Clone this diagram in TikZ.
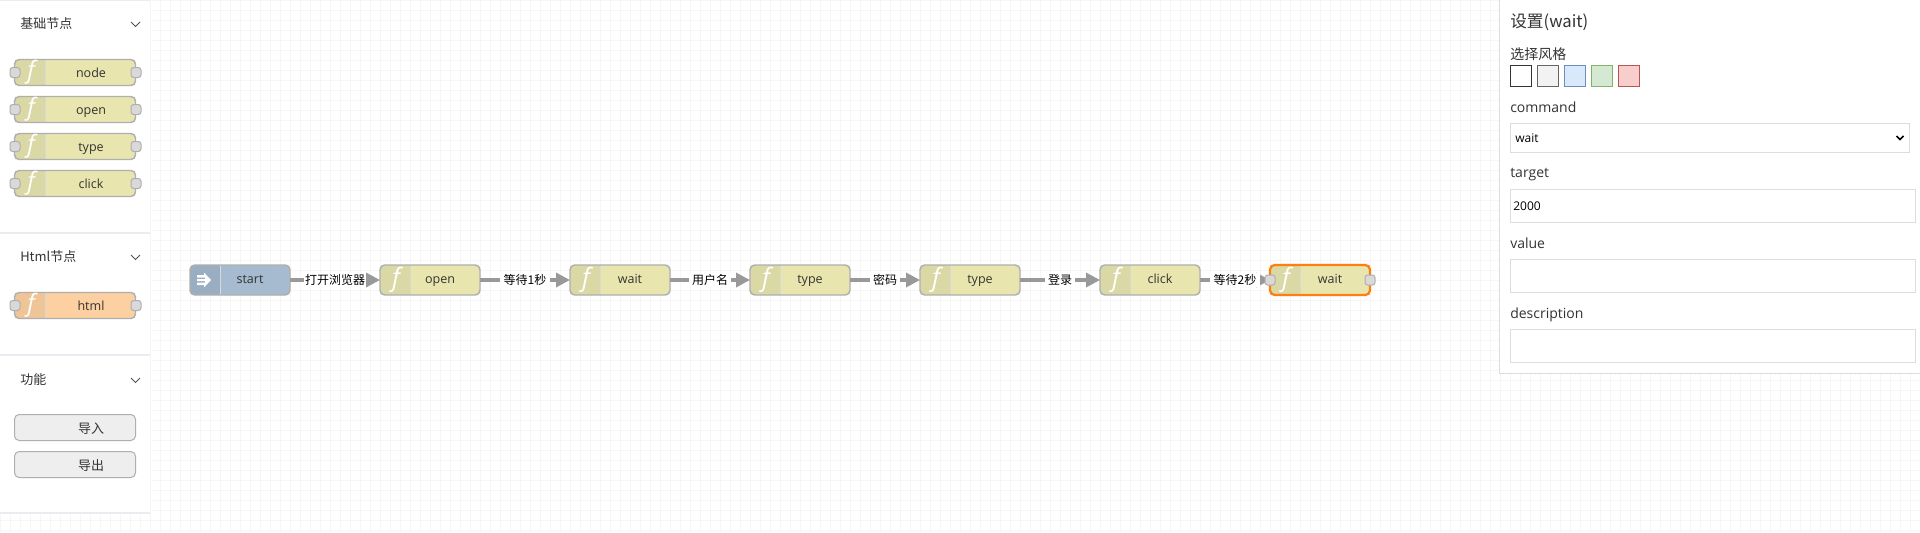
\documentclass[tikz,border=0pt]{standalone}
\usepackage{fontspec}
\setmainfont{Open Sans}
\newfontfamily\cjk{Noto Sans CJK SC}
\usetikzlibrary{arrows.meta}
\definecolor{gridc}{HTML}{F6F6F6}
\definecolor{sep}{HTML}{E9ECF1}
\definecolor{fnfill}{HTML}{E8E6AE}
\definecolor{fnicon}{HTML}{DAD8A4}
\definecolor{bord}{HTML}{AFAFAF}
\definecolor{portc}{HTML}{D9D9D9}
\definecolor{txt}{HTML}{333333}
\definecolor{htmlfill}{HTML}{FDD0A2}
\definecolor{htmlicon}{HTML}{EFC497}
\definecolor{startfill}{HTML}{A6BBCF}
\definecolor{starticon}{HTML}{9AAEC1}
\definecolor{linec}{HTML}{999999}
\definecolor{sel}{HTML}{FF7F0E}
\definecolor{inb}{HTML}{DDDDDD}
\newcommand{\pxs}{\fontsize{9.4pt}{11pt}\selectfont}
\tikzset{
  x=0.75pt,y=-0.75pt,
  nodebody/.style={rounded corners=3.5pt,draw=bord,line width=1.1pt},
  porto/.style={rectangle,rounded corners=2pt,draw=bord,fill=portc,line width=0.75pt,minimum width=7.5pt,minimum height=7.5pt,inner sep=0pt},
  lab/.style={font=\pxs,text=txt,inner sep=0pt,anchor=base},
  ttl/.style={font=\cjk\fontsize{9.75pt}{11pt}\selectfont,text=txt,inner sep=0pt,anchor=west},
  edge/.style={draw=linec,line width=2.5pt,-{Triangle[length=10.5pt,width=10.5pt,fill=linec]}},
  elab/.style={font=\cjk\fontsize{9pt}{11pt}\selectfont,fill=white,inner xsep=2.5pt,inner ysep=1pt,text=black},
  chev/.style={draw=txt!85,line width=0.6pt},
  inbox/.style={draw=inb,line width=0.9pt,fill=white},
  flab/.style={font=\fontsize{10.5pt}{12pt}\selectfont,text=txt,inner sep=0pt,anchor=base west},
  fcjk/.style={font=\cjk\fontsize{10.5pt}{12pt}\selectfont,text=txt,inner sep=0pt,anchor=west},
  val/.style={font=\fontsize{9pt}{11pt}\selectfont,text=black,inner sep=0pt,anchor=base west},
  swatch/.style={line width=0.75pt,line join=miter},
  btn/.style={rounded corners=3.5pt,draw=bord,line width=0.75pt,fill=black!6.5},
}
% palette node: name, top y, baseline y, fill, icon, label
\newcommand{\palnode}[6]{%
  \fill[#4,rounded corners=3.5pt] (14.5,#2) rectangle ++(121,26);
  \begin{scope}
    \clip[rounded corners=3.5pt] (14.5,#2) rectangle ++(121,26);
    \fill[#5] (14.5,#2) rectangle ++(31,26);
    \draw[black!15,line width=0.5pt] (45.5,#2) -- (45.5,#2+26);
  \end{scope}
  \draw[nodebody] (14.5,#2) rectangle ++(121,26);
  \node[font=\fontsize{18pt}{18pt}\selectfont,text=white,inner sep=0pt] at (31,#2+13) {$\mathit{f}$};
  \node[lab] (#1) at (91,#3) {#6};
  \node[porto] at (15,#2+13) {};
  \node[porto] at (136,#2+13) {};
}
% flow node: name, left x, label, border colour, border width
\newcommand{\flownode}[5]{%
  \fill[fnfill,rounded corners=3.5pt] (#2,265) rectangle ++(100,30);
  \begin{scope}
    \clip[rounded corners=3.5pt] (#2,265) rectangle ++(100,30);
    \fill[fnicon] (#2,265) rectangle ++(30,30);
    \draw[black!15,line width=0.5pt] (#2+30,265) -- (#2+30,295);
  \end{scope}
  \draw[nodebody,draw=#4,line width=#5] (#2,265) rectangle ++(100,30);
  \node[font=\fontsize{19pt}{19pt}\selectfont,text=white,inner sep=0pt] at (#2+16,280) {$\mathit{f}$};
  \node[lab] (#1) at (#2+60,283.5) {#3};
  \coordinate (#1L) at (#2,280);
  \coordinate (#1R) at (#2+100,280);
}
\begin{document}
\begin{tikzpicture}
\useasboundingbox (0,0) rectangle (1920,532);
\fill[white] (0,0) rectangle (1920,532);
% grid
\foreach \gx in {150,160,...,1920} \draw[gridc,line width=0.7pt] (\gx+0.5,0) -- (\gx+0.5,532);
\foreach \gy in {0,10,...,530} \draw[gridc,line width=0.7pt] (150,\gy+0.5) -- (1920,\gy+0.5);
\foreach \gx in {0,10,...,150} \draw[gridc,line width=0.7pt] (\gx+0.5,513) -- (\gx+0.5,532);
\foreach \gy in {520,530} \draw[gridc,line width=0.7pt] (0,\gy+0.5) -- (150,\gy+0.5);
% left panel
\fill[white] (0,0) rectangle (150,513);
\fill[sep] (0,0) rectangle (150,1);
\fill[sep] (0,232) rectangle (150,234);
\fill[sep] (0,354) rectangle (150,356);
\fill[sep] (0,512) rectangle (150,514);
\node[ttl] (t1) at (20,24) {基础节点};
\node[ttl] (t2) at (20,257) {Html节点};
\node[ttl] (t3) at (20,380) {功能};
\foreach \cy in {24,257,380} \draw[chev] (131,\cy-2) -- (135.5,\cy+2.5) -- (140,\cy-2);
% palette nodes
\palnode{pn}{59.5}{77.3}{fnfill}{fnicon}{node}
\palnode{po}{96.5}{114.5}{fnfill}{fnicon}{open}
\palnode{pt}{133.5}{151.5}{fnfill}{fnicon}{type}
\palnode{pc}{170.5}{188.5}{fnfill}{fnicon}{click}
\palnode{ph}{292.5}{310.5}{htmlfill}{htmlicon}{html}
% buttons
\draw[btn] (14.5,414.5) rectangle (135.5,440.5);
\draw[btn] (14.5,451.5) rectangle (135.5,477.5);
\node[ttl,anchor=center] (b1) at (91,429) {导入};
\node[ttl,anchor=center] (b2) at (91,466) {导出};
% flow nodes
\fill[startfill,rounded corners=3.5pt] (190,265) rectangle ++(100,30);
\begin{scope}
  \clip[rounded corners=3.5pt] (190,265) rectangle ++(100,30);
  \fill[starticon] (190,265) rectangle ++(30,30);
  \draw[black!15,line width=0.5pt] (220,265) -- (220,295);
\end{scope}
\draw[nodebody] (190,265) rectangle ++(100,30);
\node[lab] (fstart) at (250,283.5) {start};
\fill[white] (197,275) -- (204,275) -- (204,272.5) -- (211,280) -- (204,287.5) -- (204,285) -- (197,285) -- (197,282.5) -- (205,282.5) -- (205,281) -- (197,281) -- (197,279) -- (205,279) -- (205,277.5) -- (197,277.5) -- cycle;
\coordinate (sR) at (290,280);
\flownode{n1}{380}{open}{bord}{1.1pt}
\flownode{n2}{570}{wait}{bord}{1.1pt}
\flownode{n3}{750}{type}{bord}{1.1pt}
\flownode{n4}{920}{type}{bord}{1.1pt}
\flownode{n5}{1100}{click}{bord}{1.1pt}
\flownode{n6}{1270}{wait}{sel}{1.7pt}
% edges
\draw[edge] (sR) -- node[elab,inner xsep=1pt,pos=0.5] {打开浏览器} (n1L);
\draw[edge] (n1R) -- node[elab] {等待1秒} (n2L);
\draw[edge] (n2R) -- node[elab] {用户名} (n3L);
\draw[edge] (n3R) -- node[elab] {密码} (n4L);
\draw[edge] (n4R) -- node[elab] {登录} (n5L);
\draw[edge] (n5R) -- node[elab] {等待2秒} (n6L);
\node[porto] at (1270,280) {};
\node[porto] at (1370,280) {};
% right panel
\draw[inb,fill=white,line width=0.8pt] (1499.5,-2) rectangle (1925,373.5);
\node[font=\cjk\fontsize{12.5pt}{14pt}\selectfont,text=txt,inner sep=0pt,anchor=west] (ptitle) at (1510,22) {设置(wait)};
\node[fcjk] (pstyle) at (1510,54) {选择风格};
\draw[swatch,draw=black!80,fill=white] (1510.5,65.5) rectangle ++(21,21);
\draw[swatch,draw=black!60,fill=black!5] (1537.5,65.5) rectangle ++(21,21);
\draw[swatch,draw={rgb,255:red,108;green,142;blue,191},fill={rgb,255:red,218;green,232;blue,252}] (1564.5,65.5) rectangle ++(21,21);
\draw[swatch,draw={rgb,255:red,130;green,179;blue,102},fill={rgb,255:red,213;green,232;blue,212}] (1591.5,65.5) rectangle ++(21,21);
\draw[swatch,draw={rgb,255:red,184;green,84;blue,80},fill={rgb,255:red,248;green,206;blue,204}] (1618.5,65.5) rectangle ++(21,21);
\node[flab] (lc) at (1510,112.5) {command};
\draw[inbox] (1510.5,123.5) rectangle (1909.5,152.5);
\node[val] (vc) at (1515,142.5) {wait};
\draw[black,line width=1.2pt] (1896.5,136) -- (1900,139.5) -- (1903.5,136);
\node[flab] (lt) at (1510,177.5) {target};
\draw[inbox] (1510.5,189.5) rectangle (1915.5,222.5);
\node[val] (vt) at (1513,210.5) {2000};
\node[flab] (lv) at (1510,248) {value};
\draw[inbox] (1510.5,259.5) rectangle (1915.5,292.5);
\node[flab] (ld) at (1510,318) {description};
\draw[inbox] (1510.5,329.5) rectangle (1915.5,362.5);
\end{tikzpicture}
\end{document}
